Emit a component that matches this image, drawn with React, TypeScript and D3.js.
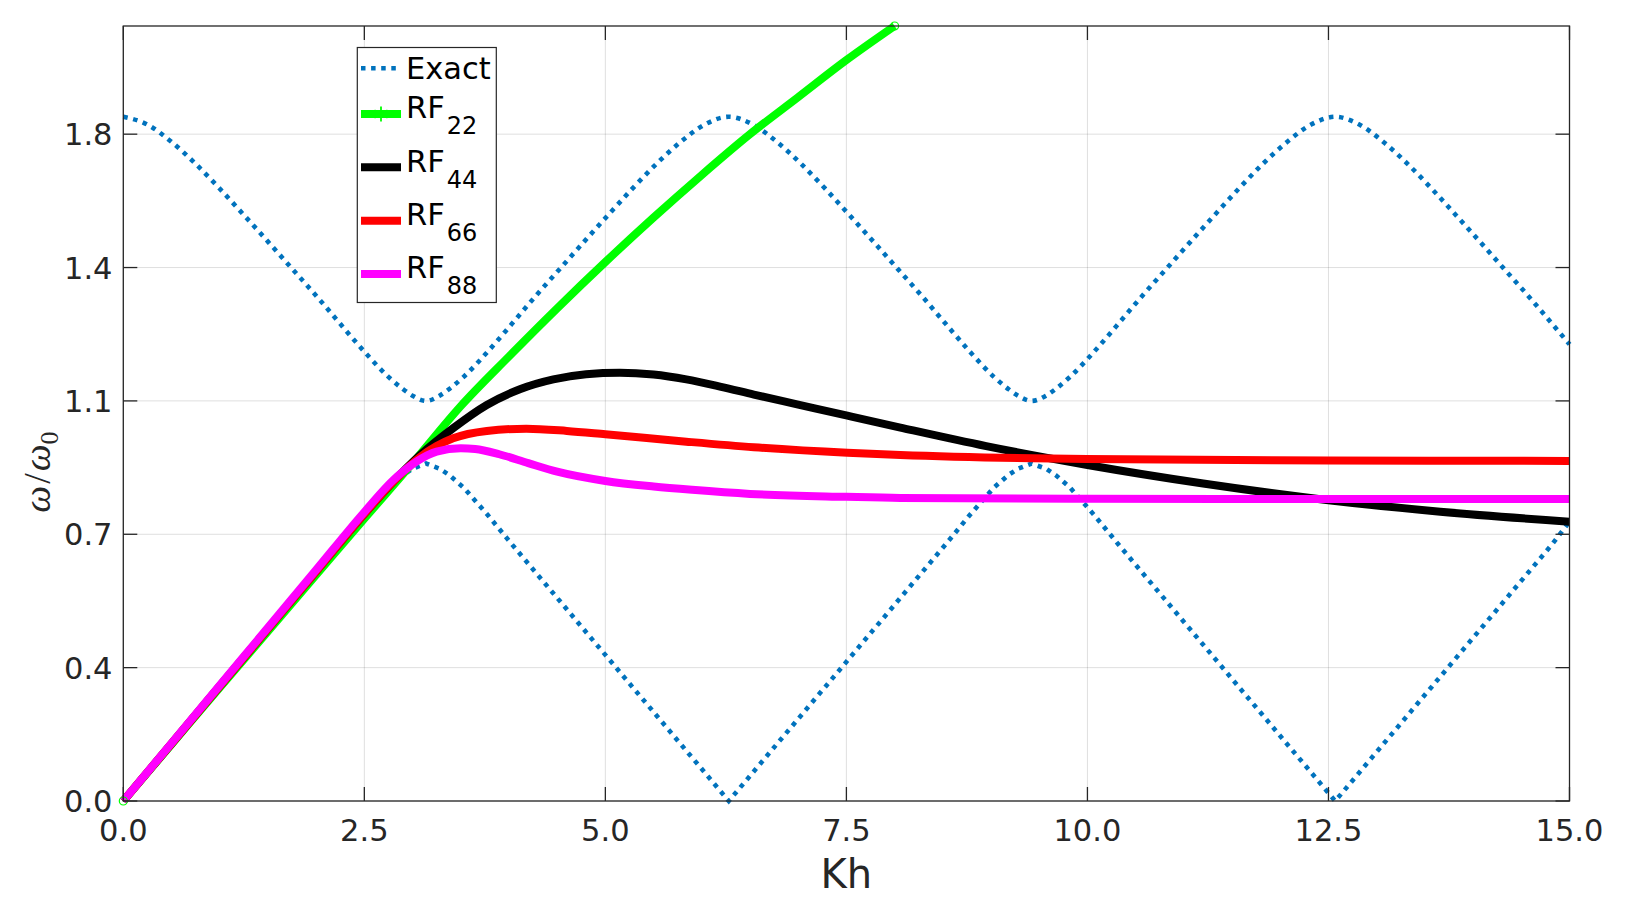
import React, { useEffect } from 'react';
import * as d3 from 'd3';

// ---- data ----
const exactKh = [
  0, 0.25, 0.5, 0.75, 1, 1.25, 1.5, 1.75, 2, 2.25, 2.5, 2.75, 2.9, 3, 3.14,
  3.28, 3.38, 3.53, 3.78, 4.03, 4.28, 4.53, 4.78, 5.03, 5.28, 5.53, 5.78, 6.03, 6.28,
  6.53, 6.78, 7.03, 7.28, 7.53, 7.78, 8.03, 8.28, 8.53, 8.78, 9.03, 9.18, 9.28, 9.42,
  9.57, 9.67, 9.82, 10.07, 10.32, 10.57, 10.82, 11.07, 11.32, 11.57, 11.82, 12.07, 12.32, 12.57,
  12.82, 13.07, 13.32, 13.57, 13.82, 14.07, 14.32, 14.57, 14.82, 15,
];
const exactUpper = [
  1.847, 1.826, 1.779, 1.72, 1.653, 1.582, 1.51, 1.437, 1.364, 1.288, 1.213, 1.145, 1.112, 1.094, 1.08,
  1.094, 1.112, 1.145, 1.213, 1.288, 1.364, 1.437, 1.51, 1.582, 1.653, 1.72, 1.779, 1.826, 1.847,
  1.826, 1.779, 1.72, 1.653, 1.582, 1.51, 1.437, 1.364, 1.288, 1.213, 1.145, 1.112, 1.094, 1.08,
  1.094, 1.112, 1.145, 1.213, 1.288, 1.364, 1.437, 1.51, 1.582, 1.653, 1.72, 1.779, 1.826, 1.847,
  1.826, 1.779, 1.72, 1.653, 1.582, 1.51, 1.437, 1.364, 1.288, 1.233,
];
const exactLower = [
  0, 0.077, 0.154, 0.231, 0.308, 0.385, 0.462, 0.539, 0.616, 0.693, 0.772, 0.846, 0.88, 0.897, 0.911,
  0.897, 0.88, 0.846, 0.772, 0.693, 0.616, 0.539, 0.462, 0.385, 0.308, 0.231, 0.154, 0.077, 0,
  0.077, 0.154, 0.231, 0.308, 0.385, 0.462, 0.539, 0.616, 0.693, 0.772, 0.846, 0.88, 0.897, 0.911,
  0.897, 0.88, 0.846, 0.772, 0.693, 0.616, 0.539, 0.462, 0.385, 0.308, 0.231, 0.154, 0.077, 0,
  0.077, 0.154, 0.231, 0.308, 0.385, 0.462, 0.539, 0.616, 0.693, 0.754,
];

const rf22Kh = [0, 0.5, 1, 1.5, 2, 2.5, 3, 3.5, 4, 4.5, 5, 5.5, 6, 6.5, 7, 7.5, 8];
const rf22W = [0, 0.153, 0.306, 0.458, 0.61, 0.762, 0.912, 1.066, 1.2, 1.33, 1.455, 1.575, 1.69, 1.8, 1.9, 2.0, 2.092];

const rf44Kh = [0, 0.5, 1, 1.5, 2, 2.5, 2.8, 3.08, 3.42, 3.77, 4.12, 4.46, 4.8, 5.15, 5.5, 5.84, 6.2, 6.54, 7.0, 7.51, 8.06, 8.95, 10.0, 11.2, 12.5, 13.66, 15];
const rf44W = [0, 0.155, 0.31, 0.465, 0.62, 0.775, 0.862, 0.934, 1.006, 1.069, 1.112, 1.138, 1.152, 1.156, 1.151, 1.138, 1.118, 1.097, 1.07, 1.04, 1.008, 0.958, 0.907, 0.857, 0.812, 0.781, 0.754];

const rf66Kh = [0, 0.5, 1, 1.5, 2, 2.5, 2.8, 3.08, 3.25, 3.42, 3.77, 4.18, 4.6, 5.0, 5.84, 6.54, 7.51, 8.06, 10.0, 12.5, 15];
const rf66W = [0, 0.155, 0.31, 0.465, 0.62, 0.775, 0.862, 0.929, 0.958, 0.979, 0.999, 1.005, 0.999, 0.99, 0.97, 0.955, 0.94, 0.934, 0.923, 0.919, 0.918];

const rf88Kh = [0, 0.5, 1, 1.5, 2, 2.5, 2.8, 2.9, 3.04, 3.25, 3.5, 3.65, 3.9, 4.2, 4.5, 5.0, 5.5, 5.9, 6.5, 7.5, 8.06, 10, 12.5, 15];
const rf88W = [0, 0.156, 0.312, 0.468, 0.624, 0.78, 0.866, 0.889, 0.916, 0.943, 0.952, 0.95, 0.936, 0.912, 0.889, 0.864, 0.849, 0.84, 0.829, 0.821, 0.818, 0.816, 0.815, 0.815];

const xTicks = [0, 2.5, 5, 7.5, 10, 12.5, 15];
const yTicks = [0, 0.36, 0.72, 1.08, 1.44, 1.8];

const legendNames = ['Exact', 'RF', 'RF', 'RF', 'RF'];
const legendSubs = ['', '22', '44', '66', '88'];
const seriesColors = ['#0072BD', '#00FF00', '#000000', '#FF0000', '#FF00FF'];

const TXT = '#262626';
const FONT = '"DejaVu Sans", sans-serif';

export default function App() {
  useEffect(() => {
    document.body.style.margin = '0';
    document.body.style.overflow = 'hidden';
  }, []);

  const W = 1633, H = 914;
  const left = 123.3, right = 1569.5, top = 26, bottom = 801;
  const x = d3.scaleLinear().domain([0, 15]).range([left, right]);
  const y = d3.scaleLinear().domain([0, 2.092]).range([bottom, top]);

  const zip = (a: number[], b: number[]) => a.map((v, i) => [v, b[i]] as [number, number]);
  const smooth = d3.line<[number, number]>().x(d => x(d[0])).y(d => y(d[1])).curve(d3.curveMonotoneX);
  const straight = d3.line<[number, number]>().x(d => x(d[0])).y(d => y(d[1]));

  const rfSeries = [
    { kh: rf22Kh, w: rf22W, color: seriesColors[1] },
    { kh: rf44Kh, w: rf44W, color: seriesColors[2] },
    { kh: rf66Kh, w: rf66W, color: seriesColors[3] },
    { kh: rf88Kh, w: rf88W, color: seriesColors[4] },
  ];

  const lw = 8;
  const dotW = 4.6;
  const dash = '4.5 5.6';

  // legend layout
  const lgX = 357.3, lgY = 47.5, lgW = 139, lgH = 255;
  const lgBase = [79.3, 118, 171.5, 225, 278.3];
  const lgLineY = [68.3, 114, 167.3, 220.7, 274];

  const star = d3.symbol(d3.symbolAsterisk, 160)() || '';

  return (
    <svg width={W} height={H} style={{ position: 'absolute', left: 0, top: 0, display: 'block', background: '#fff' }}>
      <rect x={0} y={0} width={W} height={H} fill="#fff" />
      {/* grid */}
      <g stroke={TXT} strokeOpacity={0.15} strokeWidth={1}>
        {xTicks.map(t => (
          <line key={'gx' + t} x1={x(t)} x2={x(t)} y1={top} y2={bottom} />
        ))}
        {yTicks.map(t => (
          <line key={'gy' + t} x1={left} x2={right} y1={y(t)} y2={y(t)} />
        ))}
      </g>

      {/* exact */}
      <path d={smooth(zip(exactKh, exactUpper)) || ''} fill="none" stroke={seriesColors[0]} strokeWidth={dotW} strokeDasharray={dash} />
      <path d={straight(zip(exactKh, exactLower)) || ''} fill="none" stroke={seriesColors[0]} strokeWidth={dotW} strokeDasharray={dash} />

      {/* RF series */}
      {rfSeries.map((s, i) => (
        <path key={'rf' + i} d={smooth(zip(s.kh, s.w)) || ''} fill="none" stroke={s.color} strokeWidth={lw} strokeLinejoin="round" />
      ))}
      {/* RF22 end markers */}
      {[0, rf22Kh.length - 1].map(i => (
        <circle key={'m' + i} cx={x(rf22Kh[i])} cy={y(rf22W[i])} r={4} fill="none" stroke={seriesColors[1]} strokeWidth={1.2} />
      ))}

      {/* axes box + ticks */}
      <g stroke={TXT} strokeWidth={1.3} fill="none">
        <rect x={left} y={top} width={right - left} height={bottom - top} />
        {xTicks.map(t => (
          <g key={'tx' + t}>
            <line x1={x(t)} x2={x(t)} y1={bottom} y2={bottom - 14} />
            <line x1={x(t)} x2={x(t)} y1={top} y2={top + 14} />
          </g>
        ))}
        {yTicks.map(t => (
          <g key={'ty' + t}>
            <line x1={left} x2={left + 14} y1={y(t)} y2={y(t)} />
            <line x1={right} x2={right - 14} y1={y(t)} y2={y(t)} />
          </g>
        ))}
      </g>

      {/* tick labels */}
      <g fill={TXT} fontFamily={FONT} fontSize={30.5}>
        {xTicks.map(t => (
          <text key={'lx' + t} x={x(t)} y={841} textAnchor="middle">{d3.format('.1f')(t)}</text>
        ))}
        {yTicks.map(t => (
          <text key={'ly' + t} x={112.5} y={y(t)} dy="0.365em" textAnchor="end">{d3.format('.1f')(t)}</text>
        ))}
      </g>

      {/* axis labels */}
      <text x={(left + right) / 2} y={887.7} textAnchor="middle" fontFamily={FONT} fontSize={40} fill={TXT}>Kh</text>
      <text transform="translate(50,472) rotate(-90)" textAnchor="middle" fontFamily='"Liberation Serif", serif' fontSize={38} fill={TXT}>
        <tspan fontStyle="italic">ω</tspan>
        <tspan dx={2}>/</tspan>
        <tspan fontStyle="italic" dx={2}>ω</tspan>
        <tspan fontSize={26} dy={8}>0</tspan>
      </text>

      {/* legend */}
      <rect x={lgX} y={lgY} width={lgW} height={lgH} fill="#fff" stroke={TXT} strokeWidth={1.2} />
      {legendNames.map((name, i) => (
        <g key={'lg' + i}>
          <line
            x1={361} x2={401} y1={lgLineY[i]} y2={lgLineY[i]}
            stroke={seriesColors[i]}
            strokeWidth={i === 0 ? dotW : lw}
            strokeDasharray={i === 0 ? dash : undefined}
          />
          {i === 1 && (
            <path d={star} transform={`translate(381,${lgLineY[i]})`} fill="none" stroke={seriesColors[1]} strokeWidth={1.8} />
          )}
          <text x={406} y={lgBase[i]} fontFamily={FONT} fontSize={30.5} fill="#000">
            {name}
            {legendSubs[i] && (
              <tspan fontSize={24} dx={2} dy={16}>{legendSubs[i]}</tspan>
            )}
          </text>
        </g>
      ))}
    </svg>
  );
}
